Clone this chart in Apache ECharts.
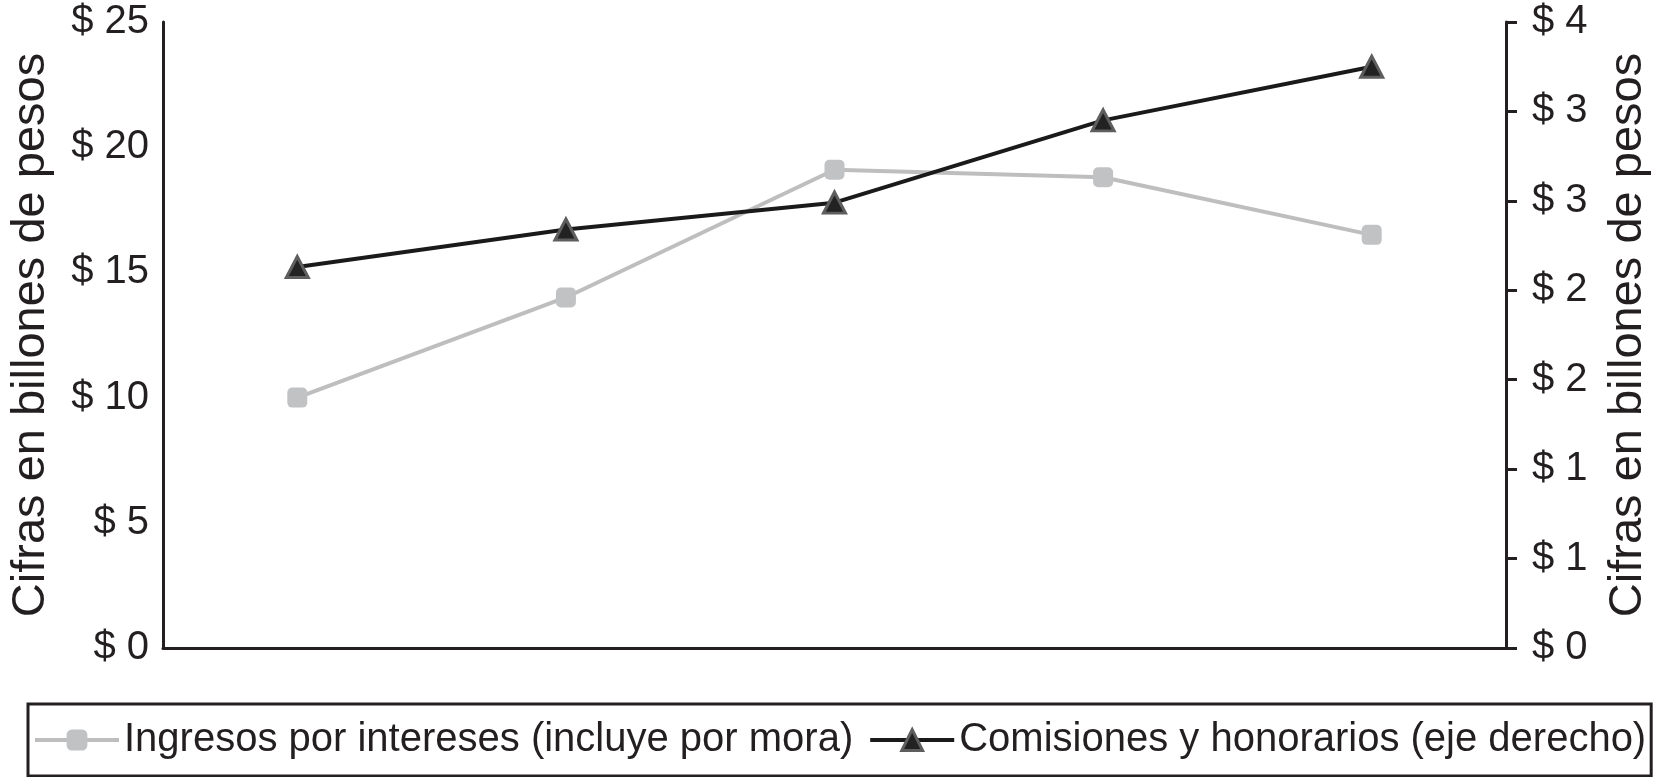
<!DOCTYPE html>
<html>
<head>
<meta charset="utf-8">
<script src="https://cdn.jsdelivr.net/npm/echarts@6/dist/echarts.min.js"></script>
<style>
html,body{margin:0;padding:0;background:#fff;}
#chart{width:1667px;height:777px;}
</style>
</head>
<body>
<div id="chart"></div>
<script>
const categories = ['1', '2', '3', '4', '5'];
const ingresosIntereses = [10.0, 14.0, 19.1, 18.8, 16.5];
const comisionesHonorarios = [2.13, 2.34, 2.49, 2.95, 3.25];
const leftTickLabels = ['$ 0', '$ 5', '$ 10', '$ 15', '$ 20', '$ 25'];
const rightTickLabels = ['$ 0', '$ 1', '$ 1', '$ 2', '$ 2', '$ 3', '$ 3', '$ 4'];
const seriesNames = ['Ingresos por intereses (incluye por mora)', 'Comisiones y honorarios (eje derecho)'];
const axisTitle = 'Cifras en billones de pesos';

const FONT = 'Liberation Sans, Arial, Helvetica, sans-serif';
const INK = '#231f20';
const GREY_LINE = '#bebebe';
const GREY_MARK = '#c1c2c4';
const BLACK_LINE = '#1a1a1a';

const chart = echarts.init(document.getElementById('chart'), null, {renderer: 'canvas'});
chart.setOption({
  backgroundColor: '#ffffff',
  animation: false,
  textStyle: {fontFamily: FONT, color: INK},
  grid: {left: 160, right: 161, top: 22, bottom: 129, containLabel: false},
  legend: {
    left: 28, top: 704,
    padding: [13, 5, 13, 5],
    borderColor: INK, borderWidth: 3,
    itemWidth: 84, itemHeight: 26, itemGap: 15,
    textStyle: {fontFamily: FONT, fontSize: 40, color: INK, lineHeight: 46},
    data: [
      {name: seriesNames[0], lineStyle: {color: GREY_LINE, width: 4}, itemStyle: {color: GREY_MARK, borderWidth: 0}},
      {name: seriesNames[1], lineStyle: {color: BLACK_LINE, width: 4}, itemStyle: {color: '#222222', borderColor: '#5e5e5e', borderWidth: 3}}
    ]
  },
  xAxis: {
    type: 'category', data: categories, boundaryGap: true,
    axisLine: {show: true, lineStyle: {color: INK, width: 3}},
    axisTick: {show: false}, axisLabel: {show: false}, splitLine: {show: false}
  },
  yAxis: [
    {
      type: 'value', position: 'left', min: 0, max: 25, interval: 5,
      name: axisTitle, nameLocation: 'middle', nameGap: 108, nameRotate: 90,
      nameTextStyle: {fontFamily: FONT, fontSize: 47, color: INK},
      axisLine: {show: true, lineStyle: {color: INK, width: 3}},
      axisTick: {show: false},
      axisLabel: {fontFamily: FONT, fontSize: 40, color: INK, margin: 14,
        formatter: (v) => leftTickLabels[Math.round(v / 5)]},
      splitLine: {show: false}
    },
    {
      type: 'value', position: 'right', min: 0, max: 3.5, interval: 0.5,
      name: axisTitle, nameLocation: 'middle', nameGap: 99, nameRotate: 90,
      nameTextStyle: {fontFamily: FONT, fontSize: 47, color: INK},
      axisLine: {show: true, lineStyle: {color: INK, width: 3}},
      axisTick: {show: true, inside: false, length: 11, lineStyle: {color: INK, width: 3}},
      axisLabel: {fontFamily: FONT, fontSize: 40, color: INK, margin: 26,
        formatter: (v) => rightTickLabels[Math.round(v / 0.5)]},
      splitLine: {show: false}
    }
  ],
  series: [
    {
      name: seriesNames[0], type: 'line', yAxisIndex: 0, data: ingresosIntereses,
      symbol: 'roundRect', symbolSize: 20,
      lineStyle: {color: GREY_LINE, width: 4},
      itemStyle: {color: GREY_MARK, borderWidth: 0}
    },
    {
      name: seriesNames[1], type: 'line', yAxisIndex: 1, data: comisionesHonorarios,
      symbol: 'triangle', symbolSize: [22, 21],
      lineStyle: {color: BLACK_LINE, width: 4},
      itemStyle: {color: '#222222', borderColor: '#5e5e5e', borderWidth: 3}
    }
  ]
});
</script>
</body>
</html>
